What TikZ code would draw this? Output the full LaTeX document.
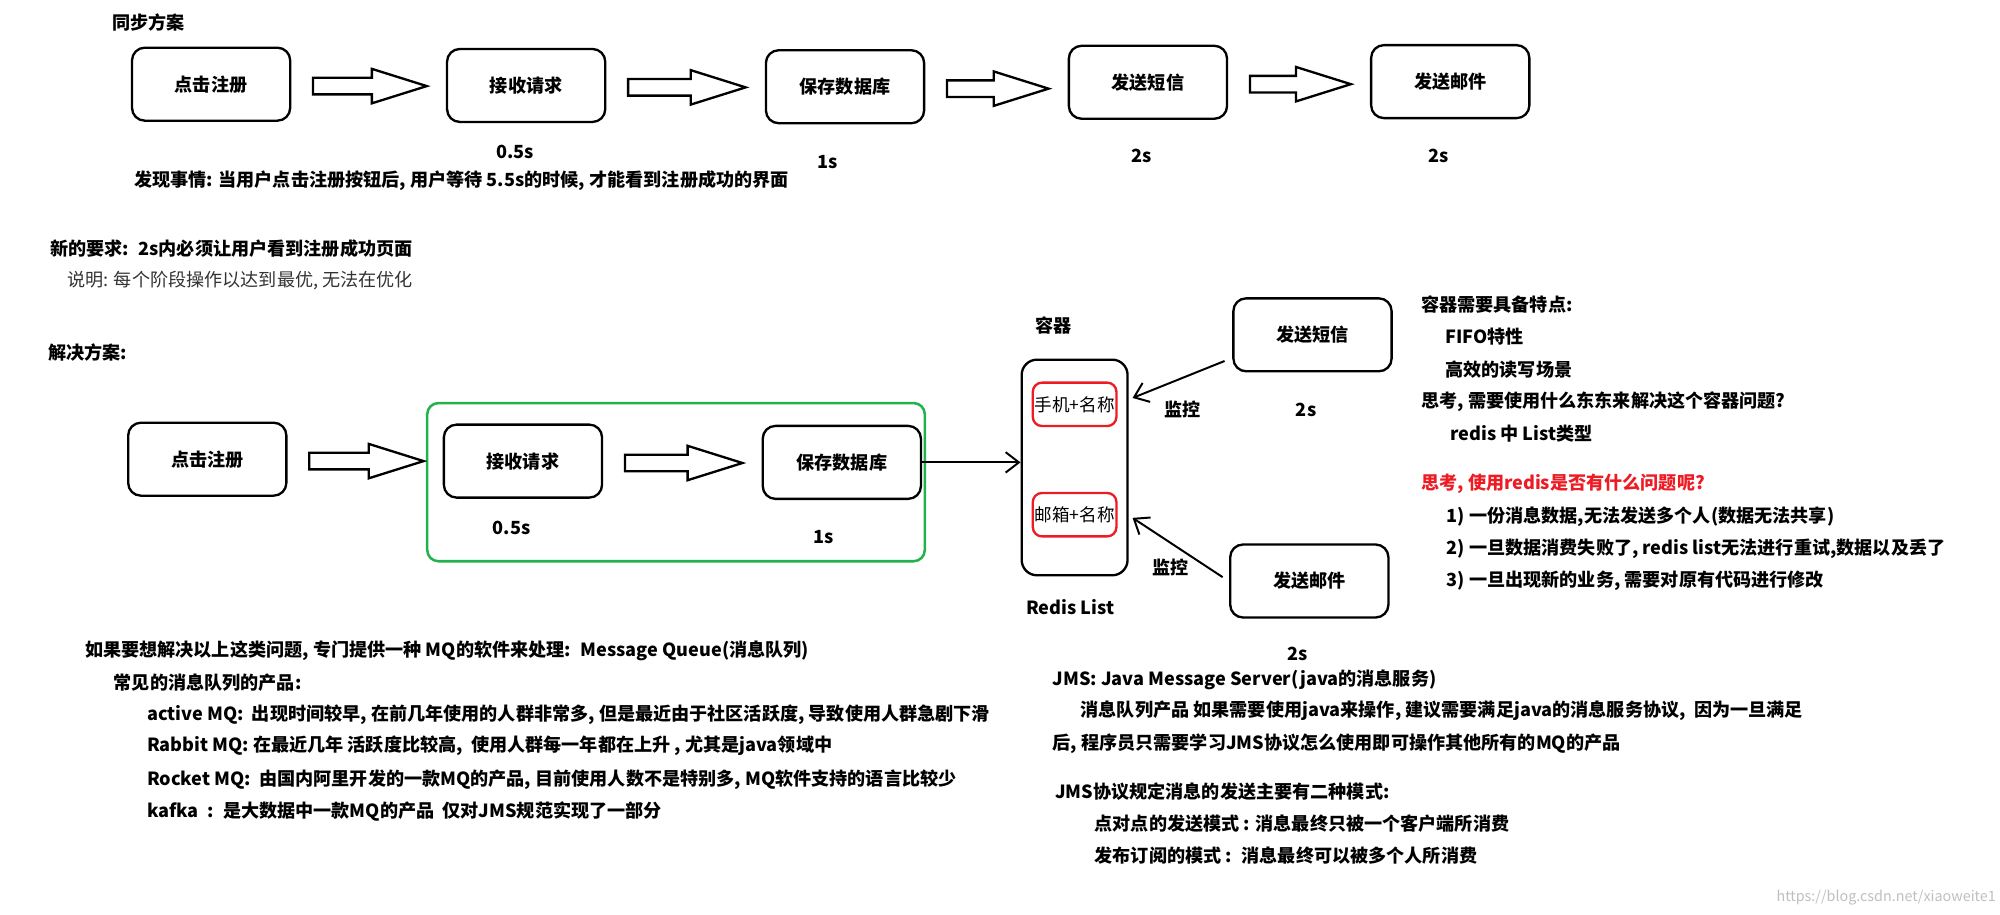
\documentclass[tikz,border=0pt]{standalone}
\usepackage{fontspec}
\setmainfont{Noto Sans CJK SC}
\usetikzlibrary{arrows.meta,calc,positioning}
\definecolor{paintgreen}{RGB}{34,177,76}
\definecolor{paintred}{RGB}{237,28,36}
\tikzstyle{fatline} = [line width=1.3pt, black, fill=white, line join=miter]
% hollow block arrow between two boxes
\newcommand{\fatarrow}[2]{%
  \coordinate (fs) at ($(#1.east)+(17,1.5)$);
  \coordinate (ft) at ($(#2.west |- fs)+(-15,0)$);
  \draw[fatline] ($(fs)+(0,-6.5)$) -- ($(ft)+(-43,-6.5)$) -- ($(ft)+(-43,-13.5)$) -- (ft)
    -- ($(ft)+(-43,13.5)$) -- ($(ft)+(-43,6.5)$) -- ($(fs)+(0,6.5)$) -- cycle;}

\begin{document}
\begin{tikzpicture}[x=0.025cm,y=-0.025cm,font=\fontsize{10.1}{12}\selectfont\bfseries,>={Straight Barb[length=2.6mm,width=4mm]}]
    \tikzstyle{box}=[draw,line width=1.3pt,rounded corners=0.25cm,minimum width=3.1cm,minimum height=1.43cm]
    \tikzstyle{txt}=[anchor=west,inner sep=0pt]
    \tikzstyle{item}=[draw=paintred,line width=1.3pt,rounded corners=0.18cm,minimum width=1.575cm,minimum height=0.85cm,inner sep=1pt,font=\fontsize{9.8}{11}\selectfont]
    \tikzstyle{link}=[->,line width=1.1pt]
    \useasboundingbox (0,0) rectangle (1568,717);

    % synchronous flow
    \node[txt] (synctitle) at (88,18) {同步方案};
    \node[box] (reg) at (165.5,66) {点击注册};
    \node[box] (recv) at (412.5,67) {接收请求};
    \node[box] (save) at (662.5,68) {保存数据库};
    \node[box] (sms) at (900,64.5) {发送短信};
    \node[box] (mail) at (1137,64) {发送邮件};
    \fatarrow{reg}{recv}
    \fatarrow{recv}{save}
    \fatarrow{save}{sms}
    \fatarrow{sms}{mail}
    \node (trecv) at (404,119) {0.5s};
    \node (tsave) at (649,127) {1s};
    \node (tsms) at (895,122) {2s};
    \node (tmail) at (1128,122) {2s};
    \node[txt] (found) at (105,142) {发现事情: 当用户点击注册按钮后, 用户等待 5.5s的时候, 才能看到注册成功的界面};
    \node[txt] (need) at (39,195) {新的要求:~ 2s内必须让用户看到注册成功页面};
    \node[txt,font=\fontsize{10.1}{12}\selectfont\mdseries,text=black!80] (note) at (52.5,220) {说明: 每个阶段操作以达到最优, 无法在优化};

    % asynchronous solution
    \node[txt] (soltitle) at (37.5,276) {解决方案:};
    \node[draw=paintgreen,line width=1.4pt,rounded corners=0.22cm,minimum width=9.75cm,minimum height=3.1cm] (group) at (530,378) {};
    \node[box] (reg2) at (162.5,360) {点击注册};
    \node[box] (recv2) at (410,361.5) {接收请求};
    \node[box] (save2) at (660,362.5) {保存数据库};
    \fatarrow{reg2}{recv2}
    \fatarrow{recv2}{save2}
    \node (trecv2) at (401,414) {0.5s};
    \node (tsave2) at (646,421) {1s};

    \node[draw,line width=1.3pt,rounded corners=0.3cm,minimum width=2.075cm,minimum height=4.225cm] (redis) at (842.5,366.5) {};
    \node (container) at (826,255) {容器};
    \node (redislabel) at (839,476) {Redis List};
    \node[item] (phone) at (842.5,317) {手机+名称};
    \node[item] (email) at (842.5,403.5) {邮箱+名称};
    \draw[link] (save2.east) -- (save2.east -| redis.west);

    \node[box] (sms2) at (1029,262.5) {发送短信};
    \node[box] (mail2) at (1026.5,455.5) {发送邮件};
    \draw[link] ($(sms2.south west)+(-6,-9)$) -- ($(phone.east -| redis.east)+(3,-5)$);
    \draw[link] ($(mail2.west)+(-5,-3)$) -- ($(email.east -| redis.east)+(3,2.5)$);
    \node (watch1) at (927,321) {监控};
    \node (tsms2) at (1024,321) {2s};
    \node (watch2) at (918,445) {监控};
    \node (tmail2) at (1017,513) {2s};

    % notes on the right
    \node[txt] (feat) at (1114,239) {容器需要具备特点:};
    \node[txt] (fifo) at (1133,264) {FIFO特性};
    \node[txt] (fast) at (1133,290) {高效的读写场景};
    \node[txt] (think) at (1114,315) {思考, 需要使用什么东东来解决这个容器问题?};
    \node[txt] (list) at (1137,340) {redis 中 List类型};
    \node[txt,text=paintred] (issue) at (1114,379) {思考, 使用redis是否有什么问题呢?};
    \node[txt] (issue1) at (1134,405) {1) 一份消息数据,无法发送多个人(数据无法共享)};
    \node[txt] (issue2) at (1134,430) {2) 一旦数据消费失败了, redis list无法进行重试,数据以及丢了};
    \node[txt] (issue3) at (1134,455) {3) 一旦出现新的业务, 需要对原有代码进行修改};

    % message queue products
    \node[txt] (mq) at (66.5,510) {如果要想解决以上这类问题, 专门提供一种 MQ的软件来处理:~ Message Queue(消息队列)};
    \node[txt] (common) at (89,535) {常见的消息队列的产品:};
    \node[txt] (active) at (115,560) {active MQ:~ 出现时间较早, 在前几年使用的人群非常多, 但是最近由于社区活跃度, 导致使用人群急剧下滑};
    \node[txt] (rabbit) at (115,585) {Rabbit MQ: 在最近几年 活跃度比较高,~ 使用人群每一年都在上升 , 尤其是java领域中};
    \node[txt] (rocket) at (115,611) {Rocket MQ:~ 由国内阿里开发的一款MQ的产品, 目前使用人数不是特别多, MQ软件支持的语言比较少};
    \node[txt] (kafka) at (115,636) {kafka~ :~ 是大数据中一款MQ的产品~ 仅对JMS规范实现了一部分};

    % JMS
    \node[txt] (jms) at (825,533) {JMS: Java Message Server(java的消息服务)};
    \node[txt] (jms1) at (847,557) {消息队列产品 如果需要使用java来操作, 建议需要满足java的消息服务协议,~ 因为一旦满足};
    \node[txt] (jms2) at (825,583) {后, 程序员只需要学习JMS协议怎么使用即可操作其他所有的MQ的产品};
    \node[txt] (modes) at (827,621) {JMS协议规定消息的发送主要有二种模式:};
    \node[txt] (p2p) at (858,646) {点对点的发送模式 : 消息最终只被一个客户端所消费};
    \node[txt] (pubsub) at (858,671) {发布订阅的模式 :~ 消息最终可以被多个人所消费};
    \node[anchor=east,inner sep=0pt,text=black!25,font=\fontsize{8}{9}\selectfont] (mark) at (1565,704) {https://blog.csdn.net/xiaoweite1};
\end{tikzpicture}
\end{document}
